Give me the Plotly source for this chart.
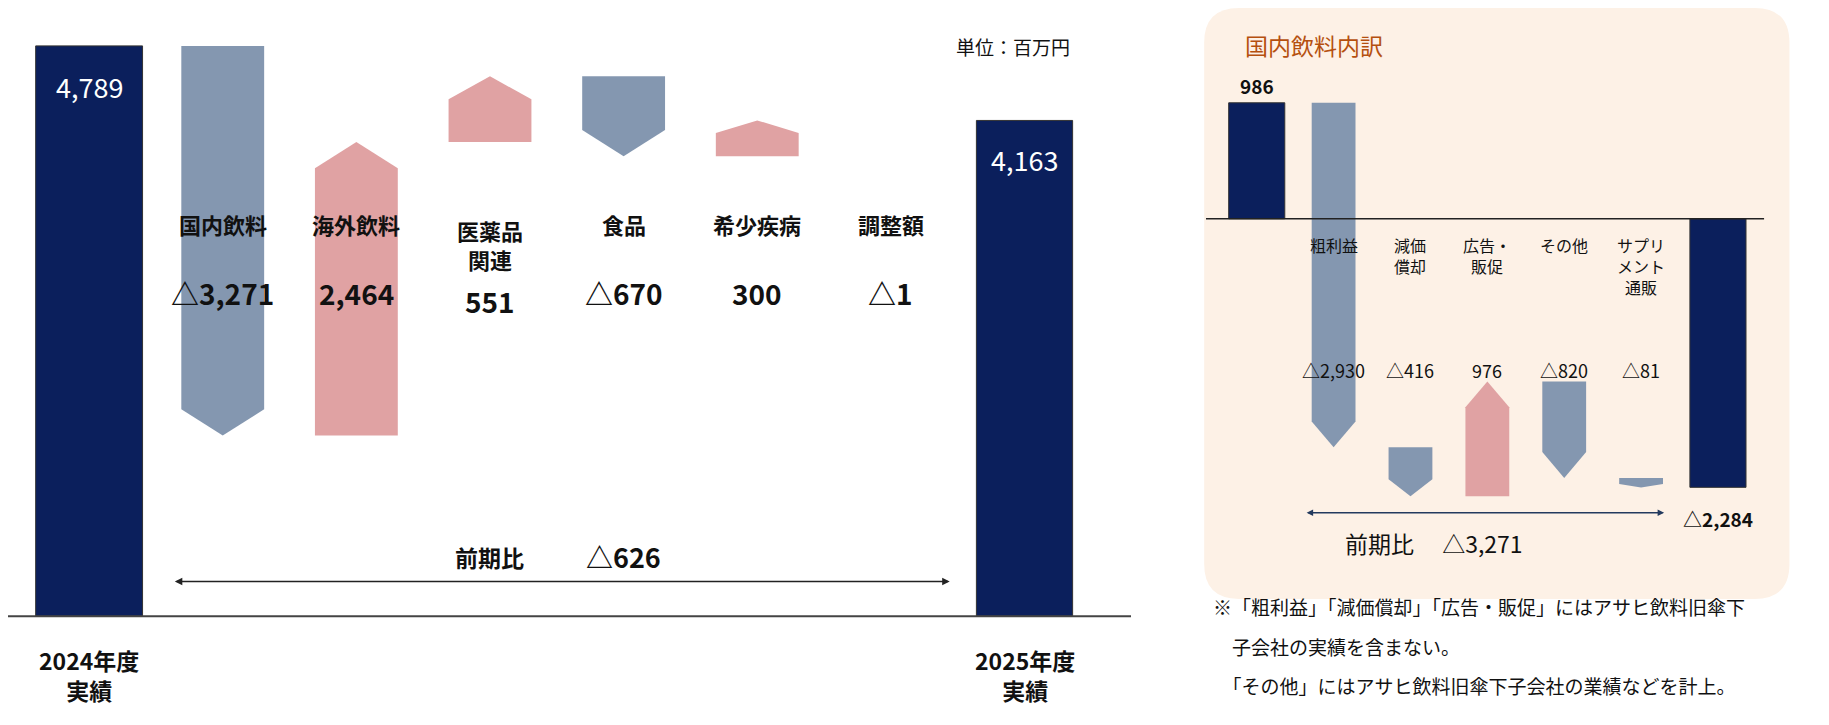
import plotly.graph_objects as go

# left waterfall (million yen)
left_start = 4789
left_end = 4163
left_cats = ["国内飲料", "海外飲料", "医薬品<br>関連", "食品", "希少疾病", "調整額"]
left_deltas = [-3271, 2464, 551, -670, 300, -1]
left_labels = ["△3,271", "2,464", "551", "△670", "300", "△1"]

# right breakdown
right_start = 986
right_end = -2284
right_cats = ["粗利益", "減価<br>償却", "広告・<br>販促", "その他", "サプリ<br>メント<br>通販"]
right_deltas = [-2930, -416, 976, -820, -81]
right_labels = ["△2,930", "△416", "976", "△820", "△81"]

NAVY = "#0b1f5c"
BLUE = "#8497b0"
PINK = "#e0a2a3"
FONT = "Noto Sans CJK JP"

fig = go.Figure()


def arrow(x, base, delta, w, head_max, xa, ya):
    top = base + delta
    head = min(head_max, 0.35 * abs(delta))
    sh = top - head if delta > 0 else top + head
    xs = [x - w / 2, x - w / 2, x, x + w / 2, x + w / 2, x - w / 2]
    ys = [base, sh, top, sh, base, base]
    color = PINK if delta > 0 else BLUE
    fig.add_trace(go.Scatter(x=xs, y=ys, fill="toself", fillcolor=color, mode="lines",
                             line=dict(width=0), xaxis=xa, yaxis=ya, hoverinfo="skip"))


# left panel
fig.add_trace(go.Bar(x=[0, 7], y=[left_start, left_end], width=[0.8, 0.72], marker_color=NAVY,
                     marker_line=dict(color="#333", width=1), xaxis="x", yaxis="y"))
level = left_start
for i, d in enumerate(left_deltas):
    if abs(d) > 10:
        arrow(i + 1, level, d, 0.62, 220, "x", "y")
    level += d

# right panel
fig.add_trace(go.Bar(x=[0, 6], y=[right_start, right_end], width=0.73, marker_color=NAVY,
                     marker_line=dict(color="#333", width=1), xaxis="x2", yaxis="y2"))
level = right_start
for i, d in enumerate(right_deltas):
    arrow(i + 1, level, d, 0.57, 220, "x2", "y2")
    level += d

ann = []
for i, (c, v) in enumerate(zip(left_cats, left_labels)):
    ann.append(dict(x=i + 1, y=3294 if "<br>" not in c else 3120, text="<b>%s</b>" % c, xref="x", yref="y",
                    showarrow=False, font=dict(size=22)))
    ann.append(dict(x=i + 1, y=2714 if "<br>" not in c else 2650, text="<b>%s</b>" % v, xref="x", yref="y",
                    showarrow=False, font=dict(size=28)))
ann += [
    dict(x=0, y=4444, text="4,789", xref="x", yref="y", showarrow=False, font=dict(size=27, color="white")),
    dict(x=7, y=3835, text="4,163", xref="x", yref="y", showarrow=False, font=dict(size=27, color="white")),
    dict(x=0, y=-492, text="<b>2024年度<br>実績</b>", xref="x", yref="y", showarrow=False, font=dict(size=23)),
    dict(x=7, y=-492, text="<b>2025年度<br>実績</b>", xref="x", yref="y", showarrow=False, font=dict(size=23)),
    dict(x=3.0, y=500, text="<b>前期比</b>", xref="x", yref="y", showarrow=False, font=dict(size=23)),
    dict(x=4.0, y=500, text="<b>△626</b>", xref="x", yref="y", showarrow=False, font=dict(size=27)),
    dict(x=6.44, y=292, ax=0.63, ay=292, xref="x", yref="y", axref="x", ayref="y", text="",
         showarrow=True, arrowhead=2, arrowside="end+start", arrowwidth=1.5, arrowsize=1, arrowcolor="#222"),
    dict(x=0.582, y=0.968, xanchor="right", text="単位：百万円", xref="paper", yref="paper",
         showarrow=False, font=dict(size=19)),
]
for i, (c, v) in enumerate(zip(right_cats, right_labels)):
    ann.append(dict(x=i + 1, y=-100, yanchor="top", text=c, xref="x2", yref="y2",
                    showarrow=False, font=dict(size=16)))
    ann.append(dict(x=i + 1, y=-1285, text=v, xref="x2", yref="y2", showarrow=False, font=dict(size=18)))
ann += [
    dict(x=0, y=1135, text="<b>986</b>", xref="x2", yref="y2", showarrow=False, font=dict(size=19)),
    dict(x=6, y=-2550, text="<b>△2,284</b>", xref="x2", yref="y2", showarrow=False, font=dict(size=19)),
    dict(x=5.3, y=-2500, ax=0.63, ay=-2500, xref="x2", yref="y2", axref="x2", ayref="y2", text="",
         showarrow=True, arrowhead=2, arrowside="end+start", arrowwidth=1.3, arrowsize=1, arrowcolor="#233a5e"),
    dict(x=2.3, y=-2760, text="前期比　 △3,271", xref="x2", yref="y2", showarrow=False, font=dict(size=23)),
    dict(x=0.675, y=0.975, text="国内飲料内訳", xref="paper", yref="paper", xanchor="left", yanchor="top",
         showarrow=False, font=dict(size=23, color="#b5500f")),
]
foot = ["※「粗利益」「減価償却」「広告・販促」にはアサヒ飲料旧傘下",
        "　子会社の実績を含まない。",
        "　「その他」にはアサヒ飲料旧傘下子会社の業績などを計上。"]
for k, t in enumerate(foot):
    ann.append(dict(x=0.658, y=(619 - 524 - 34 * k) / 619, text=t, xref="paper", yref="paper",
                    xanchor="left", showarrow=False, font=dict(size=19)))

fig.update_layout(
    width=1829, height=725, margin=dict(l=0, r=0, t=0, b=0),
    paper_bgcolor="white", plot_bgcolor="rgba(0,0,0,0)", showlegend=False,
    font=dict(family=FONT, color="#111"), annotations=ann,
    xaxis=dict(domain=[0, 0.614], range=[-0.607, 7.797], visible=False),
    yaxis=dict(domain=[0, 1], range=[-980, 5107], visible=False),
    xaxis2=dict(domain=[0.655, 0.974], range=[-0.66, 6.93], visible=False),
    yaxis2=dict(domain=[0, 1], range=[-4373, 1792], visible=False, anchor="x2"),
    shapes=[
        dict(type="path", xref="paper", yref="paper", layer="below", line_width=0, fillcolor="#fdf1e6",
             path="M 0.673 1 L 0.955 1 Q 0.974 1 0.974 0.952 L 0.974 0.233 Q 0.974 0.185 0.955 0.185 "
                  "L 0.673 0.185 Q 0.654 0.185 0.654 0.233 L 0.654 0.952 Q 0.654 1 0.673 1 Z"),
        dict(type="line", xref="paper", yref="y", x0=0, x1=0.614, y0=0, y1=0, line=dict(color="#444", width=2)),
        dict(type="line", xref="x2", yref="y2", x0=-0.67, x1=6.6, y0=0, y1=0, line=dict(color="#222", width=1.5)),
    ],
)

fig.write_html("out.html")
